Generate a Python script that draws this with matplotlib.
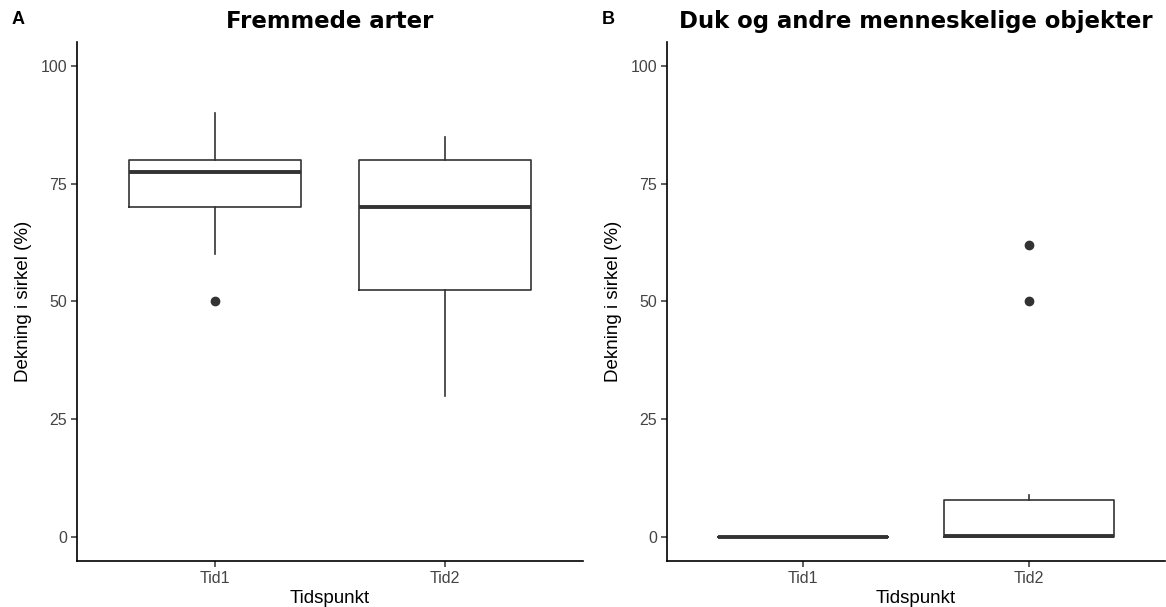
import matplotlib
matplotlib.use("Agg")
import matplotlib.pyplot as plt

# values
groups = ["Tid1", "Tid2"]
panel_titles = ["Fremmede arter", "Duk og andre menneskelige objekter"]
panel_tags = ["A", "B"]

# panel A: Fremmede arter
a_q1 = [70, 52.5]
a_med = [77.5, 70]
a_q3 = [80, 80]
a_whislo = [60, 30]
a_whishi = [90, 85]
a_fliers = [[50], []]

# panel B: Duk og andre menneskelige objekter
b_q1 = [0, 0]
b_med = [0, 0.2]
b_q3 = [0, 7.8]
b_whislo = [0, 0]
b_whishi = [0, 8.8]
b_fliers = [[], [50, 62]]

yticks = [0, 25, 50, 75, 100]

plt.rcParams["font.family"] = ["Liberation Sans", "DejaVu Sans"]

fig = plt.figure(figsize=(11.66, 6.07), dpi=100)
ax_a = fig.add_axes([0.066, 0.0758, 0.434, 0.855])
ax_b = fig.add_axes([0.572, 0.0758, 0.427, 0.855])

panels = [
    (ax_a, a_q1, a_med, a_q3, a_whislo, a_whishi, a_fliers),
    (ax_b, b_q1, b_med, b_q3, b_whislo, b_whishi, b_fliers),
]

for i, (ax, q1, med, q3, lo, hi, fl) in enumerate(panels):
    stats = []
    for j, g in enumerate(groups):
        stats.append({"label": g, "q1": q1[j], "med": med[j], "q3": q3[j],
                      "whislo": lo[j], "whishi": hi[j], "fliers": fl[j]})
    ax.bxp(stats, positions=[1, 2], widths=0.75, showcaps=False,
           boxprops=dict(color="#333333", linewidth=1.2),
           whiskerprops=dict(color="#333333", linewidth=1.2),
           medianprops=dict(color="#333333", linewidth=2.8, solid_capstyle="butt"),
           flierprops=dict(marker="o", markerfacecolor="#333333",
                           markeredgecolor="#333333", markersize=6))
    ax.set_xlim(0.4, 2.6)
    ax.set_ylim(-5.2, 105.2)
    ax.set_yticks(yticks)
    ax.set_xticks([1, 2])
    ax.set_xticklabels(groups)
    for s in ["top", "right"]:
        ax.spines[s].set_visible(False)
    for s in ["left", "bottom"]:
        ax.spines[s].set_linewidth(1.2)
        ax.spines[s].set_color("black")
    ax.tick_params(axis="both", length=4, width=1.1, color="#333333",
                   labelsize=11.5, labelcolor="#444444", pad=3)
    ax.set_xlabel("Tidspunkt", fontsize=13.5, labelpad=3)
    ax.set_ylabel("Dekning i sirkel (%)", fontsize=13.5, labelpad=6)
    ax.set_title(panel_titles[i], fontsize=16.4, fontweight="bold",
                 family="DejaVu Sans", pad=10)

fig.text(0.010, 0.960, panel_tags[0], fontsize=13, fontweight="bold")
fig.text(0.516, 0.960, panel_tags[1], fontsize=13, fontweight="bold")

fig.savefig("out.png", dpi=100)
